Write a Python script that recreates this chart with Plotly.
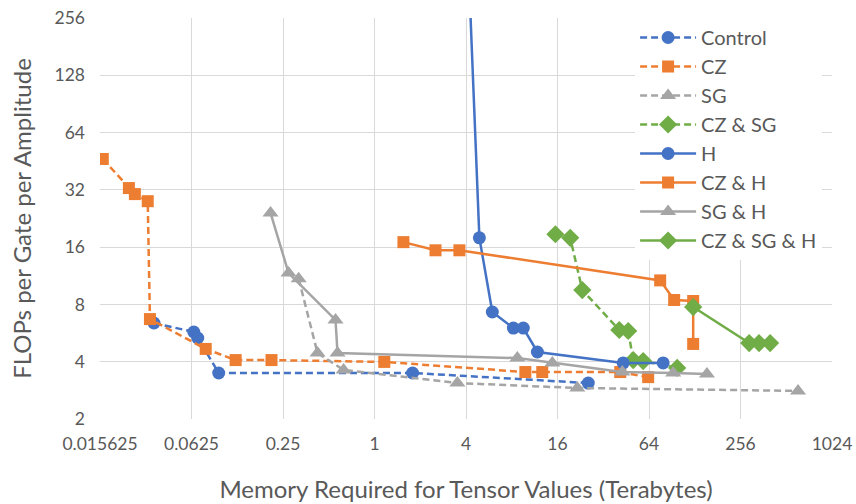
import plotly.graph_objects as go

# Data (Terabytes, FLOPs per gate per amplitude)
control_x = [0.0354, 0.0647, 0.0687, 0.0944, 1.78, 25.5]
control_y = [6.39, 5.73, 5.33, 3.49, 3.49, 3.09]

cz_x = [0.0163, 0.0242, 0.0265, 0.0322, 0.0333, 0.0775, 0.122, 0.210, 1.16, 9.83, 12.7, 41.4, 63.2]
cz_y = [46.5, 32.7, 30.4, 27.9, 6.70, 4.67, 4.08, 4.08, 3.99, 3.53, 3.53, 3.53, 3.32]

sg_x = [0.317, 0.422, 0.626, 3.51, 21.6, 612]
sg_y = [10.9, 4.44, 3.62, 3.09, 2.91, 2.81]

czsg_x = [15.5, 19.4, 23.3, 40.8, 46.7, 50.4, 58.6, 98.1]
czsg_y = [18.7, 17.9, 9.52, 5.87, 5.80, 4.08, 4.03, 3.71]

h_x = [4.0, 4.90, 5.96, 8.20, 9.53, 11.8, 43.3, 79.3]
h_y = [1024, 17.9, 7.30, 6.01, 6.01, 4.50, 3.94, 3.94]

czh_x = [1.55, 2.52, 3.62, 75.8, 93.7, 125, 125]
czh_y = [17.0, 15.4, 15.4, 10.7, 8.44, 8.34, 4.96]

sgh_x = [0.207, 0.272, 0.554, 0.571, 8.71, 14.8, 42.7, 92.3, 154]
sgh_y = [24.2, 11.7, 6.63, 4.44, 4.18, 3.94, 3.53, 3.49, 3.45]

czsgh_x = [125, 292, 339, 401]
czsgh_y = [7.75, 5.01, 5.01, 5.01]

x_ticks = [0.015625, 0.0625, 0.25, 1, 4, 16, 64, 256, 1024]
x_tick_text = ["0.015625", "0.0625", "0.25", "1", "4", "16", "64", "256", "1024"]
y_ticks = [2, 4, 8, 16, 32, 64, 128, 256]
y_tick_text = ["2", "4", "8", "16", "32", "64", "128", "256"]

BLUE = "#4472C4"
ORANGE = "#ED7D31"
GRAY = "#A5A5A5"
GREEN = "#70AD47"
DASH = "7px,4px"

series = [
    ("Control", control_x, control_y, BLUE, DASH, "circle", 13),
    ("CZ", cz_x, cz_y, ORANGE, DASH, "square", 12),
    ("SG", sg_x, sg_y, GRAY, DASH, "triangle-up", 14),
    ("CZ & SG", czsg_x, czsg_y, GREEN, DASH, "diamond", 14),
    ("H", h_x, h_y, BLUE, "solid", "circle", 13),
    ("CZ & H", czh_x, czh_y, ORANGE, "solid", "square", 12),
    ("SG & H", sgh_x, sgh_y, GRAY, "solid", "triangle-up", 14),
    ("CZ & SG & H", czsgh_x, czsgh_y, GREEN, "solid", "diamond", 14),
]

fig = go.Figure()
for i, (name, xs, ys, col, dash, sym, size) in enumerate(series):
    fig.add_trace(go.Scatter(
        x=xs, y=ys, name=name, mode="lines+markers",
        legendgroup="g%d" % i,
        line=dict(color=col, width=2.5, dash=dash),
        marker=dict(color=col, symbol=sym, size=size, line=dict(width=0)),
    ))

FONT = "Lato, Carlito, 'Open Sans', sans-serif"
fig.update_layout(
    width=856, height=504,
    margin=dict(l=100, r=24, t=18, b=85),
    paper_bgcolor="white", plot_bgcolor="white",
    font=dict(family=FONT, color="#595959", size=17),
    showlegend=True,
    legend=dict(
        x=0.731, y=1.0, xanchor="left", yanchor="top",
        bgcolor="white", font=dict(size=20, color="#595959"),
        tracegroupgap=0, itemwidth=56,
    ),
    xaxis=dict(
        type="log", automargin=False,
        range=[-1.80618, 3.0103],
        tickvals=x_ticks, ticktext=x_tick_text,
        showgrid=True, gridcolor="#D9D9D9", gridwidth=1,
        zeroline=False, showline=False, ticks="",
        ticklabelstandoff=12,
        tickfont=dict(size=17.5, color="#595959"),
        title=dict(text="Memory Required for Tensor Values (Terabytes)",
                   font=dict(size=24, color="#595959"), standoff=28),
    ),
    yaxis=dict(
        type="log", automargin=False,
        range=[0.30103, 2.40824],
        tickvals=y_ticks, ticktext=y_tick_text,
        showgrid=True, gridcolor="#D9D9D9", gridwidth=1,
        zeroline=False, showline=False, ticks="",
        ticklabelstandoff=14,
        tickfont=dict(size=17.5, color="#595959"),
        title=dict(text="FLOPs per Gate per Amplitude",
                   font=dict(size=24, color="#595959"), standoff=16),
    ),
)

fig.write_html("out.html")
